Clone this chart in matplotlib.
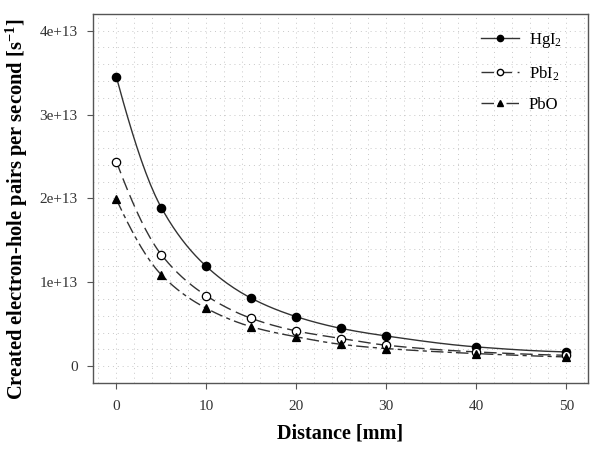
import numpy as np
import matplotlib
matplotlib.use("Agg")
import matplotlib.pyplot as plt
from matplotlib.ticker import MultipleLocator, FuncFormatter

distance = [0, 5, 10, 15, 20, 25, 30, 40, 50]
hgi2 = [3.45e13, 1.89e13, 1.19e13, 0.81e13, 0.59e13, 0.45e13, 0.36e13, 0.23e13, 0.17e13]
pbi2 = [2.44e13, 1.33e13, 0.84e13, 0.57e13, 0.42e13, 0.33e13, 0.25e13, 0.17e13, 0.13e13]
pbo = [1.99e13, 1.09e13, 0.69e13, 0.47e13, 0.35e13, 0.26e13, 0.21e13, 0.15e13, 0.11e13]

plt.rcParams['font.family'] = ['Liberation Serif', 'DejaVu Serif']
plt.rcParams['mathtext.fontset'] = 'custom'
plt.rcParams['mathtext.rm'] = 'Liberation Serif'
plt.rcParams['mathtext.it'] = 'Liberation Serif:italic'
plt.rcParams['mathtext.bf'] = 'Liberation Serif:bold'


def smooth(x, y, n=200):
    # monotone cubic (pchip) curve through the points, for drawing only
    x = np.asarray(x, float)
    y = np.asarray(y, float)
    h = np.diff(x)
    d = np.diff(y) / h
    m = np.zeros_like(y)
    for k in range(1, len(x) - 1):
        if d[k - 1] * d[k] > 0:
            w1 = 2 * h[k] + h[k - 1]
            w2 = h[k] + 2 * h[k - 1]
            m[k] = (w1 + w2) / (w1 / d[k - 1] + w2 / d[k])
    m[0] = ((2 * h[0] + h[1]) * d[0] - h[0] * d[1]) / (h[0] + h[1])
    if m[0] * d[0] <= 0:
        m[0] = 0
    m[-1] = ((2 * h[-1] + h[-2]) * d[-1] - h[-1] * d[-2]) / (h[-1] + h[-2])
    if m[-1] * d[-1] <= 0:
        m[-1] = 0
    xs = np.linspace(x[0], x[-1], n)
    idx = np.clip(np.searchsorted(x, xs) - 1, 0, len(x) - 2)
    t = (xs - x[idx]) / h[idx]
    h00 = 2 * t**3 - 3 * t**2 + 1
    h10 = t**3 - 2 * t**2 + t
    h01 = -2 * t**3 + 3 * t**2
    h11 = t**3 - t**2
    ys = h00 * y[idx] + h10 * h[idx] * m[idx] + h01 * y[idx + 1] + h11 * h[idx] * m[idx + 1]
    return xs, ys


fig = plt.figure(figsize=(5.92, 4.5), dpi=100)
ax = fig.add_axes([0.157, 0.149, 0.836, 0.82])

series = [
    ("HgI$_2$", hgi2, "o", "black", "-"),
    ("PbI$_2$", pbi2, "o", "white", (0, (9, 4))),
    ("PbO", pbo, "^", "black", (0, (9, 3, 3, 3))),
]
for label, vals, mk, fc, ls in series:
    xs, ys = smooth(distance, vals)
    ax.plot(xs, ys, color="#333333", linestyle=ls, linewidth=1.0, zorder=2)
    ax.plot(distance, vals, linestyle="none", marker=mk, markersize=6,
            markerfacecolor=fc, markeredgecolor="black", markeredgewidth=0.9, zorder=3)
    # legend proxy
    ax.plot([], [], color="#333333", linestyle=ls, linewidth=1.0, marker=mk,
            markersize=4.5, markerfacecolor=fc, markeredgecolor="black", label=label)

ax.set_xlim(-2.6, 52.4)
ax.set_ylim(-0.2e13, 4.2e13)
ax.xaxis.set_major_locator(MultipleLocator(10))
ax.yaxis.set_major_locator(MultipleLocator(1e13))
ax.xaxis.set_minor_locator(MultipleLocator(2))
ax.yaxis.set_minor_locator(MultipleLocator(0.2e13))
ax.yaxis.set_major_formatter(FuncFormatter(lambda v, p: "0" if abs(v) < 1 else "%de+13" % round(v / 1e13)))

ax.grid(which="both", color="#c8c8c8", linestyle=(0, (1, 4)), linewidth=0.7)
ax.set_axisbelow(True)
ax.tick_params(which="minor", length=0)
ax.tick_params(which="major", direction="out", length=4, width=0.8, colors="#555555",
               labelsize=11, labelcolor="#333333", pad=8)
ax.tick_params(axis="y", pad=7)
for s in ax.spines.values():
    s.set_color("#555555")
    s.set_linewidth(1.0)

ax.set_xlabel("Distance [mm]", fontsize=14.5, fontweight="bold", labelpad=8)
ax.set_ylabel("Created electron-hole pairs per second [s$^{\\mathbf{-1}}$]", fontsize=14.8,
              fontweight="bold")
ax.yaxis.set_label_coords(-0.128, 0.47)

ax.legend(loc="upper right", frameon=False, fontsize=12, handlelength=2.3, handletextpad=0.6,
          labelspacing=0.85, borderaxespad=0.4, bbox_to_anchor=(0.975, 0.99))

fig.savefig("out.png", dpi=100)
